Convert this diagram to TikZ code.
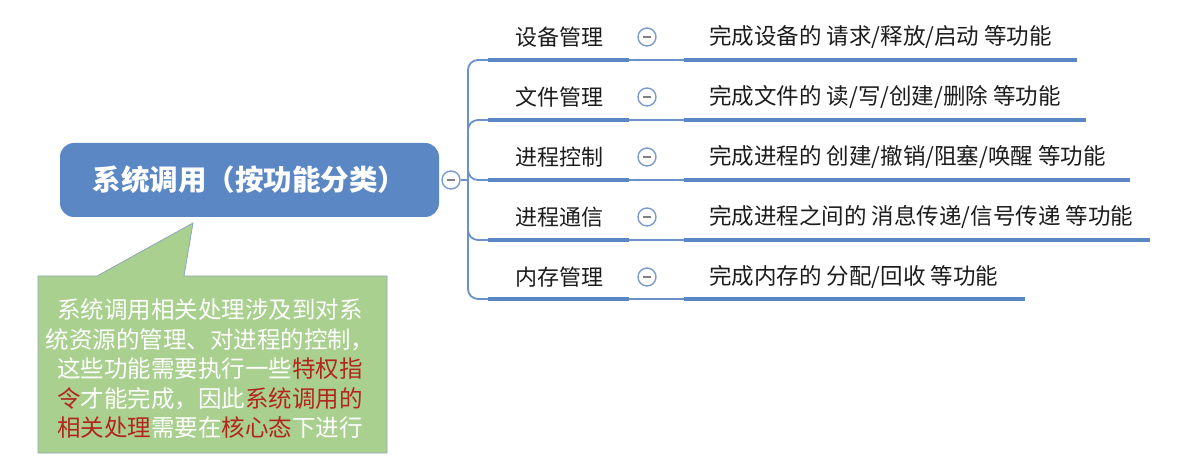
\documentclass[tikz,border=0pt]{standalone}
\usepackage{fontspec}
\newfontfamily\cjk{Noto Sans CJK SC}
\definecolor{rootblue}{HTML}{5B87C5}
\definecolor{lineblue}{HTML}{6A91CC}
\definecolor{circblue}{HTML}{7C9BD0}
\definecolor{callgreen}{HTML}{A9D08E}
\definecolor{callborder}{HTML}{8FA7BD}
\definecolor{darkred}{HTML}{B3261E}
\definecolor{txt}{HTML}{1C1C1C}
\tikzset{
  root/.style={rectangle, rounded corners=14pt, fill=rootblue, text=white,
    minimum width=379pt, minimum height=74pt, inner sep=0pt,
    font=\cjk\bfseries\fontsize{28.5}{28.5}\selectfont},
  minusnode/.style={circle, draw=circblue, line width=1.4pt, fill=white,
    minimum size=18pt, inner sep=0pt,
    path picture={\draw[gray, line width=1.3pt]
      ([xshift=-4pt]path picture bounding box.center) -- ([xshift=4pt]path picture bounding box.center);}},
  lab/.style={text=txt, inner sep=0pt, font=\cjk\fontsize{22}{22}\selectfont},
  det/.style={text=txt, inner sep=0pt, anchor=west, font=\cjk\fontsize{22.5}{22.5}\selectfont},
  thickline/.style={draw=rootblue, line width=4.5pt},
  thinline/.style={draw=lineblue, line width=1.6pt},
  branch/.style={draw=lineblue, line width=1.8pt, rounded corners=10pt},
  calltext/.style={text=white, align=center, inner sep=0pt,
    font=\cjk\fontsize{23.5}{29.5}\selectfont},
}
\newcommand{\rd}[1]{\textcolor{darkred}{#1}}
\begin{document}
\begin{tikzpicture}[x=1pt,y=-1pt]
\useasboundingbox[fill=white] (0,0) rectangle (1192,462);

% callout
\path[fill=callgreen, draw=callborder, line width=0.8pt]
  (38,276) -- (97,276) -- (193,223) -- (184,276) -- (387,276) -- (387,453) -- (38,453) -- cycle;
\node[calltext] (ct) at (210,369) {系统调用相关处理涉及到对系\\
统资源的管理、对进程的控制，\\
这些功能需要执行一些\rd{特权指}\\
\rd{令}才能完成，因此\rd{系统调用的}\\
\rd{相关处理}需要在\rd{核心态}下进行};

% root
\node[root] (root) at (249.5,180) {系统调用（按功能分类）};
\node[minusnode] (rc) at (451,180) {};
\coordinate (hub) at (468,180);
\draw[branch] (rc.east) -- (hub);

\foreach \i/\yt/\yu/\xe/\lab/\det in {
  1/37/60/1077/设备管理/{完成设备的 请求\slash 释放\slash 启动 等功能},
  2/97/120/1086/文件管理/{完成文件的 读\slash 写\slash 创建\slash 删除 等功能},
  3/157/180/1130/进程控制/{完成进程的 创建\slash 撤销\slash 阻塞\slash 唤醒 等功能},
  4/217/240/1150/进程通信/{完成进程之间的 消息传递\slash 信号传递 等功能},
  5/277/299/1025/内存管理/{完成内存的 分配\slash 回收 等功能}}
{
  \node[lab] (l\i) at (559.5,\yt) {\lab};
  \node[minusnode] (c\i) at (647,\yt) {};
  \node[det] (d\i) at (709,\yt) {\det};
  \coordinate (ua\i) at (488,\yu);
  \coordinate (ub\i) at (629,\yu);
  \coordinate (uc\i) at (684,\yu);
  \coordinate (ue\i) at (\xe,\yu);
  \draw[branch] (hub) |- (ua\i);
  \draw[thinline] (ub\i) -- (uc\i);
  \draw[thickline] (ua\i) -- (ub\i);
  \draw[thickline] (uc\i) -- (ue\i);
}
\end{tikzpicture}
\end{document}
